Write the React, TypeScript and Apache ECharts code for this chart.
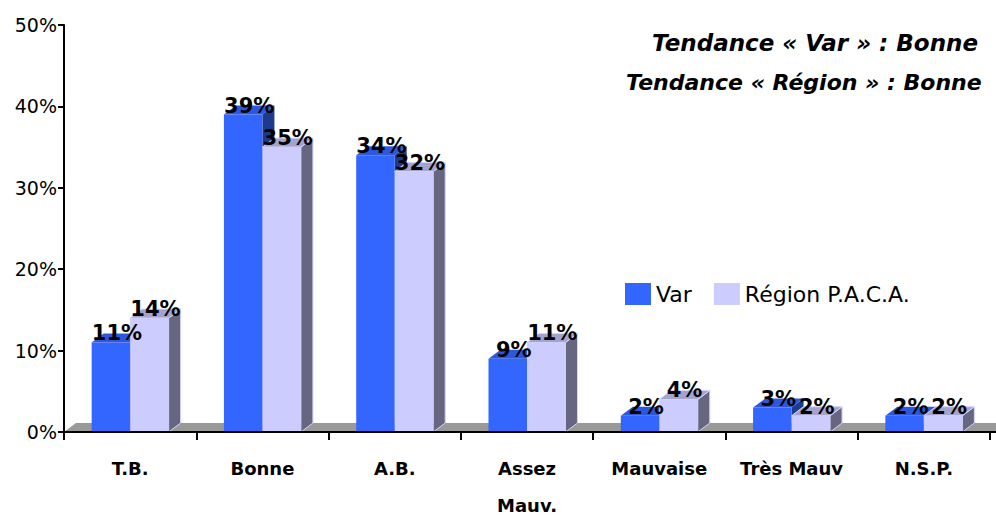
import React, { useEffect, useRef } from "react";
import * as echarts from "echarts";

const categories = ["T.B.", "Bonne", "A.B.", "Assez\nMauv.", "Mauvaise", "Très Mauv", "N.S.P."];
const varValues = [11, 39, 34, 9, 2, 3, 2];
const regionValues = [14, 35, 32, 11, 4, 2, 2];
const yTicks = [0, 10, 20, 30, 40, 50];
const titleLines = ["Tendance « Var » : Bonne", "Tendance « Région » : Bonne"];

const FONT = "DejaVu Sans";
const BW = 38.5;
const DX = 12;
const DY = 9;

type Faces = { front: string; top: string; side: string; edge?: string };

const makeRender = (which: 0 | 1, faces: Faces) => (params: any, api: any) => {
  const idx = api.value(0);
  const v = api.value(1);
  const c = api.coord([idx, 0]);
  const t = api.coord([idx, v]);
  const x0 = which === 0 ? c[0] - BW : c[0];
  const x1 = x0 + BW;
  const yb = c[1];
  const yt = t[1];
  const edge = faces.edge ? { stroke: faces.edge, lineWidth: 1 } : {};
  return {
    type: "group",
    children: [
      {
        type: "polygon",
        shape: { points: [[x1, yt], [x1 + DX, yt - DY], [x1 + DX, yb - DY], [x1, yb]] },
        style: { fill: faces.side, ...edge },
      },
      {
        type: "polygon",
        shape: { points: [[x0, yt], [x0 + DX, yt - DY], [x1 + DX, yt - DY], [x1, yt]] },
        style: { fill: faces.top, ...edge },
      },
      {
        type: "rect",
        shape: { x: x0, y: yt, width: BW, height: yb - yt },
        style: { fill: faces.front },
      },
      {
        type: "text",
        x: (x0 + x1) / 2 + 6,
        y: yt - 9,
        z2: 100,
        style: {
          text: v + "%",
          fill: "#000",
          font: `bold 21px "${FONT}"`,
          align: "center",
          verticalAlign: "middle",
        },
      },
    ],
  };
};

export default function App() {
  const ref = useRef<HTMLDivElement>(null);
  useEffect(() => {
    if (!ref.current) return;
    const chart = echarts.init(ref.current, null, { renderer: "svg" });
    chart.setOption({
      animation: false,
      backgroundColor: "#fff",
      grid: { left: 64, right: 6, top: 25, bottom: 83, outerBoundsMode: "none", containLabel: false },
      legend: {
        data: ["Var", "Région P.A.C.A."],
        left: 620,
        top: 278,
        itemWidth: 26,
        itemHeight: 22,
        itemGap: 22,
        icon: "rect",
        textStyle: { fontFamily: FONT, fontSize: 22, color: "#000" },
      },
      xAxis: {
        type: "category",
        data: categories,
        z: 10,
        axisLine: { lineStyle: { color: "#000", width: 2 } },
        axisTick: { show: true, length: 8, lineStyle: { color: "#000", width: 2 } },
        axisLabel: {
          interval: 0,
          margin: 18,
          lineHeight: 37,
          color: "#000",
          fontFamily: FONT,
          fontWeight: "bold",
          fontSize: 18,
        },
      },
      yAxis: {
        type: "value",
        min: yTicks[0],
        max: yTicks[yTicks.length - 1],
        interval: 10,
        z: 10,
        axisLine: { show: true, lineStyle: { color: "#000", width: 2 } },
        axisTick: { show: true, length: 6, lineStyle: { color: "#000", width: 2 } },
        splitLine: { show: false },
        axisLabel: {
          formatter: "{value}%",
          margin: 7,
          color: "#000",
          fontFamily: FONT,
          fontSize: 19,
        },
      },
      graphic: [
        {
          type: "line",
          shape: { x1: 989, y1: 432, x2: 996, y2: 432 },
          style: { stroke: "#000", lineWidth: 2 },
          z: 20,
        },
        {
          type: "text",
          left: 652,
          top: 31,
          style: {
            text: titleLines[0],
            fill: "#000",
            font: `italic bold 23px "${FONT}"`,
          },
        },
        {
          type: "text",
          left: 626,
          top: 71,
          style: {
            text: titleLines[1],
            fill: "#000",
            font: `italic bold 22px "${FONT}"`,
          },
        },
      ],
      series: [
        {
          type: "custom",
          name: "floor",
          data: [[0, 0]],
          z: 1,
          renderItem: (params: any) => {
            const cs = params.coordSys;
            const yb = cs.y + cs.height;
            return {
              type: "polygon",
              shape: {
                points: [
                  [cs.x, yb],
                  [cs.x + cs.width + 20, yb],
                  [cs.x + cs.width + 20 + DX, yb - DY],
                  [cs.x + DX, yb - DY],
                ],
              },
              style: { fill: "#999999" },
            };
          },
        },
        {
          type: "custom",
          name: "Var",
          itemStyle: { color: "#3366FF" },
          encode: { x: 0, y: 1 },
          data: varValues.map((v, i) => [i, v]),
          renderItem: makeRender(0, { front: "#3366FF", top: "#2C58DD", side: "#1E3A8C" }),
        },
        {
          type: "custom",
          name: "Région P.A.C.A.",
          itemStyle: { color: "#CCCCFF" },
          encode: { x: 0, y: 1 },
          data: regionValues.map((v, i) => [i, v]),
          renderItem: makeRender(1, { front: "#CCCCFF", top: "#A3A3CC", side: "#666680", edge: "#D4D4FF" }),
        },
      ],
    });
    return () => chart.dispose();
  }, []);
  return (
    <div
      ref={ref}
      style={{ position: "fixed", left: 0, top: 0, width: 996, height: 515 }}
    />
  );
}
